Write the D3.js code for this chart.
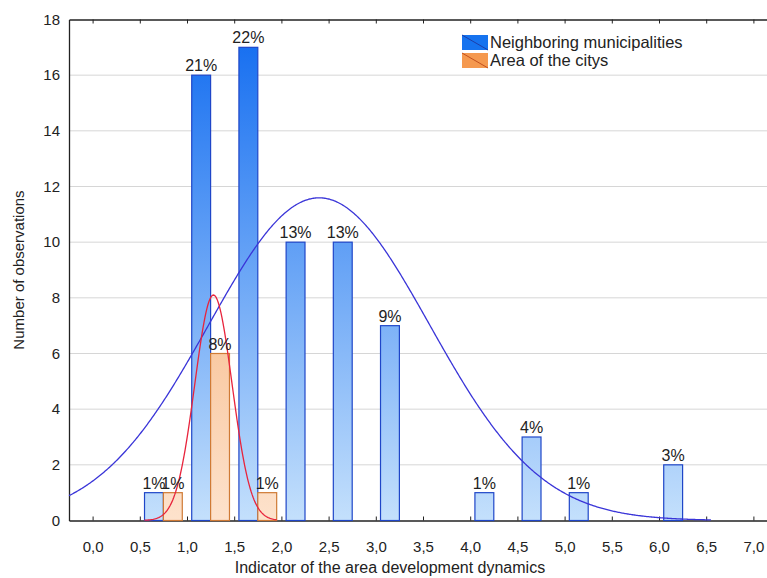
<!DOCTYPE html>
<html>
<head>
<meta charset="utf-8">
<script src="https://cdn.jsdelivr.net/npm/d3@7"></script>
<style>
  body { margin: 0; background: #fff; }
  svg { display: block; font-family: "Liberation Sans", Arial, sans-serif; }
</style>
</head>
<body>
<div id="hist-chart"></div>
<script>
// data
const binCenters = [0.75, 1.25, 1.75, 2.25, 2.75, 3.25, 4.25, 4.75, 5.25, 6.25];
const neighborCounts = [1, 16, 17, 10, 10, 7, 1, 3, 1, 2];
const neighborLabels = ["1%", "21%", "22%", "13%", "13%", "9%", "1%", "4%", "1%", "3%"];
const cityCenters = [0.75, 1.25, 1.75];
const cityCounts = [1, 6, 1];
const cityLabels = ["1%", "8%", "1%"];
const xTicks = [0, 0.5, 1, 1.5, 2, 2.5, 3, 3.5, 4, 4.5, 5, 5.5, 6, 6.5, 7];
const yTicks = [0, 2, 4, 6, 8, 10, 12, 14, 16, 18];
const seriesNames = ["Neighboring municipalities", "Area of the citys"];
// fitted normal curves (mean, sd, n)
const neighborFit = { mean: 2.4, sd: 1.17, n: 68, from: -0.25, to: 6.55 };
const cityFit = { mean: 1.28, sd: 0.197, n: 8, from: 0.55, to: 1.95 };
const binWidth = 0.5;

function drawHistogram(cWidth, cHeight) {
  const margin = { left: 69, top: 19.5, right: -10, bottom: 57.5 },
    w = cWidth - margin.left - margin.right,
    h = cHeight - margin.top - margin.bottom,
    svg = d3
      .select("#hist-chart")
      .append("svg")
      .attr("width", cWidth)
      .attr("height", cHeight);

  const x = d3.scaleLinear().domain([-0.25, 7.25]).range([0, w]),
    y = d3.scaleLinear().domain([0, 18]).range([h, 0]),
    barW = x(0.2) - x(0);

  // gradients for the bars
  const defs = svg.append("defs");
  const gradBlue = defs
    .append("linearGradient")
    .attr("id", "gradBlue")
    .attr("gradientUnits", "userSpaceOnUse")
    .attr("x1", 0).attr("x2", 0)
    .attr("y1", y(18)).attr("y2", y(0));
  gradBlue.append("stop").attr("offset", 0).attr("stop-color", "#0f6af0");
  gradBlue.append("stop").attr("offset", 1).attr("stop-color", "#c4e0fc");
  const gradOrange = defs
    .append("linearGradient")
    .attr("id", "gradOrange")
    .attr("gradientUnits", "userSpaceOnUse")
    .attr("x1", 0).attr("x2", 0)
    .attr("y1", y(18)).attr("y2", y(0));
  gradOrange.append("stop").attr("offset", 0).attr("stop-color", "#f29a52");
  gradOrange.append("stop").attr("offset", 1).attr("stop-color", "#fde2cc");

  const svgG = svg
    .append("g")
    .attr("transform", `translate(${margin.left}, ${margin.top})`);

  // grid
  svgG
    .selectAll(".grid")
    .data(yTicks.filter(d => d > 0 && d < 18))
    .enter()
    .append("line")
    .attr("x1", 0)
    .attr("x2", w)
    .attr("y1", d => y(d))
    .attr("y2", d => y(d))
    .attr("stroke", "#d6d6d6");

  // bottom axis, inward ticks
  const xAxis = svgG
    .append("g")
    .attr("transform", `translate(0, ${h})`)
    .call(
      d3.axisBottom(x)
        .tickValues(xTicks)
        .tickSizeInner(-4)
        .tickSizeOuter(0)
        .tickPadding(21)
        .tickFormat(d => d3.format(".1f")(d).replace(".", ","))
    );
  xAxis.select(".domain").attr("stroke", "#222").attr("stroke-width", 1.3);
  xAxis.selectAll(".tick line").attr("stroke", "#222");
  xAxis
    .selectAll(".tick text")
    .attr("fill", "#222")
    .style("font-size", "15px");

  // top border with inward ticks
  const topAxis = svgG
    .append("g")
    .call(d3.axisTop(x).tickValues(xTicks).tickSizeInner(-4).tickSizeOuter(0).tickFormat(""));
  topAxis.select(".domain").attr("stroke", "#222").attr("stroke-width", 1.3);
  topAxis.selectAll(".tick line").attr("stroke", "#222");

  // left axis
  const yAxis = svgG
    .append("g")
    .call(d3.axisLeft(y).tickValues(yTicks).tickSize(0).tickPadding(9));
  yAxis.select(".domain").attr("stroke", "#222").attr("stroke-width", 1.3);
  yAxis
    .selectAll(".tick text")
    .attr("fill", "#222")
    .style("font-size", "15px");

  // neighboring bars
  const nData = binCenters.map((c, i) => ({ c: c, v: neighborCounts[i], l: neighborLabels[i] }));
  svgG
    .selectAll(".nbar")
    .data(nData)
    .enter()
    .append("rect")
    .attr("x", d => x(d.c) - barW)
    .attr("y", d => y(d.v))
    .attr("width", barW)
    .attr("height", d => y(0) - y(d.v))
    .attr("fill", "url(#gradBlue)")
    .attr("stroke", "#1f46c8")
    .attr("stroke-width", 1.2);

  // city bars
  const cData = cityCenters.map((c, i) => ({ c: c, v: cityCounts[i], l: cityLabels[i] }));
  svgG
    .selectAll(".cbar")
    .data(cData)
    .enter()
    .append("rect")
    .attr("x", d => x(d.c))
    .attr("y", d => y(d.v))
    .attr("width", barW)
    .attr("height", d => y(0) - y(d.v))
    .attr("fill", "url(#gradOrange)")
    .attr("stroke", "#cf7a35")
    .attr("stroke-width", 1.2);

  // fitted curves
  const normal = (f, t) =>
    (f.n * binWidth) / (f.sd * Math.sqrt(2 * Math.PI)) *
    Math.exp(-0.5 * Math.pow((t - f.mean) / f.sd, 2));
  const curve = f => d3.range(f.from, f.to + 1e-9, 0.01).map(t => [t, normal(f, t)]);
  const line = d3.line().x(d => x(d[0])).y(d => y(d[1]));
  svgG
    .append("path")
    .attr("fill", "none")
    .attr("stroke", "#3a35d8")
    .attr("stroke-width", 1.3)
    .attr("d", line(curve(neighborFit)));
  svgG
    .append("path")
    .attr("fill", "none")
    .attr("stroke", "#e8243c")
    .attr("stroke-width", 1.3)
    .attr("d", line(curve(cityFit)));

  // percent labels
  svgG
    .selectAll(".nlab")
    .data(nData)
    .enter()
    .append("text")
    .attr("x", d => x(d.c) - barW / 2)
    .attr("y", d => y(d.v) - 4)
    .attr("text-anchor", "middle")
    .attr("fill", "#222")
    .style("font-size", "16px")
    .text(d => d.l);
  svgG
    .selectAll(".clab")
    .data(cData)
    .enter()
    .append("text")
    .attr("x", d => x(d.c) + barW / 2)
    .attr("y", d => y(d.v) - 4)
    .attr("text-anchor", "middle")
    .attr("fill", "#222")
    .style("font-size", "16px")
    .text(d => d.l);

  // legend
  const legend = svg.append("g").attr("transform", "translate(462, 35)");
  const swatches = [
    { fill: "#1673ef", diag: "#1e3ea8" },
    { fill: "#f5994f", diag: "#c2501e" }
  ];
  seriesNames.forEach((name, i) => {
    const g = legend.append("g").attr("transform", `translate(0, ${i * 18})`);
    g.append("rect")
      .attr("width", 26)
      .attr("height", 15)
      .attr("fill", swatches[i].fill);
    g.append("line")
      .attr("x1", 0).attr("y1", 0)
      .attr("x2", 26).attr("y2", 15)
      .attr("stroke", swatches[i].diag)
      .attr("stroke-width", 1);
    g.append("text")
      .attr("x", 28)
      .attr("y", 13)
      .attr("fill", "#222")
      .style("font-size", "16.5px")
      .text(name);
  });

  // axis titles
  svg
    .append("text")
    .attr("x", margin.left + x(3.15))
    .attr("y", cHeight - 5)
    .attr("text-anchor", "middle")
    .attr("fill", "#222")
    .style("font-size", "16px")
    .text("Indicator of the area development dynamics");
  svg
    .append("text")
    .attr("transform", `translate(24, ${margin.top + y(9)}) rotate(-90)`)
    .attr("text-anchor", "middle")
    .attr("fill", "#222")
    .style("font-size", "15px")
    .text("Number of observations");
}

drawHistogram(767, 578);
</script>
</body>
</html>
